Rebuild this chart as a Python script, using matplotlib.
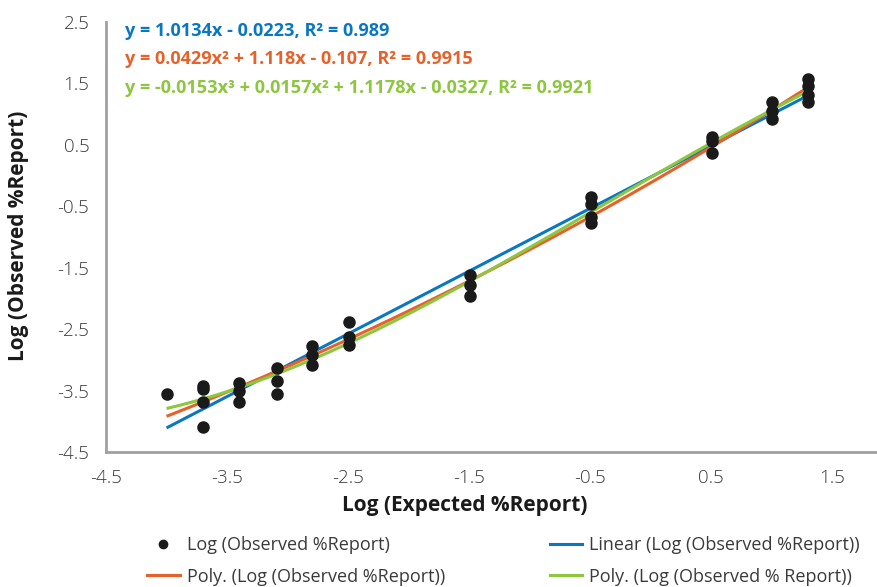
import numpy as np
import matplotlib
matplotlib.use("Agg")
import matplotlib.pyplot as plt
from matplotlib.lines import Line2D

plt.rcParams['font.family'] = ['Open Sans', 'DejaVu Sans']

# Data (log10 expected vs log10 observed)
x_expected = [-4.0,
              -3.7, -3.7, -3.7, -3.7,
              -3.4, -3.4, -3.4,
              -3.09, -3.09, -3.09,
              -2.8, -2.8, -2.8,
              -2.49, -2.49, -2.49,
              -1.49, -1.49, -1.49,
              -0.49, -0.49, -0.49, -0.49,
              0.51, 0.51, 0.51,
              1.0, 1.0, 1.0,
              1.3, 1.3, 1.3, 1.3]
y_observed = [-3.56,
              -3.42, -3.48, -3.69, -4.09,
              -3.38, -3.50, -3.69,
              -3.13, -3.35, -3.56,
              -2.77, -2.92, -3.08,
              -2.38, -2.62, -2.76,
              -1.62, -1.78, -1.96,
              -0.35, -0.47, -0.68, -0.78,
              0.63, 0.57, 0.37,
              1.20, 1.05, 0.92,
              1.58, 1.46, 1.31, 1.20]

eq_linear = "y = 1.0134x - 0.0223, R² = 0.989"
eq_poly2 = "y = 0.0429x² + 1.118x - 0.107, R² = 0.9915"
eq_poly3 = "y = -0.0153x³ + 0.0157x² + 1.1178x - 0.0327, R² = 0.9921"

x_ticks = [-4.5, -3.5, -2.5, -1.5, -0.5, 0.5, 1.5]
y_ticks = [-4.5, -3.5, -2.5, -1.5, -0.5, 0.5, 1.5, 2.5]

c_blue = "#0a77c2"
c_orange = "#e6622a"
c_green = "#8dc63f"
c_axis = "#a0a0a4"
c_text = "#3a3a3a"

fig = plt.figure(figsize=(8.77, 5.87), dpi=100)
ax = fig.add_axes([106/877, 1 - 452/587, 1 - 106/877, (452 - 22)/587])

# Trendlines fitted to the data (as the spreadsheet does)
xs = np.linspace(min(x_expected), max(x_expected), 200)
for deg, col in [(1, c_blue), (2, c_orange), (3, c_green)]:
    coef = np.polyfit(x_expected, y_observed, deg)
    ax.plot(xs, np.polyval(coef, xs), color=col, lw=2.2, solid_capstyle='butt')
ax.plot(x_expected, y_observed, 'o', color='#1a1a1a', ms=8, zorder=5)

ax.set_xlim(-4.5, 1.87)
ax.set_ylim(-4.5, 2.5)
ax.set_xticks(x_ticks)
ax.set_yticks(y_ticks)
ax.set_xticklabels([f"{v}" for v in x_ticks])
ax.set_yticklabels([f"{v}" for v in y_ticks])
ax.tick_params(length=0, labelsize=13.5, colors=c_text, pad=12)
for lbl in ax.get_xticklabels() + ax.get_yticklabels():
    lbl.set_fontweight('light')
for s in ['top', 'right']:
    ax.spines[s].set_visible(False)
for s in ['left', 'bottom']:
    ax.spines[s].set_color(c_axis)
    ax.spines[s].set_linewidth(2.0)

fig.text(465/877, 1 - 505/587, "Log (Expected %Report)", ha='center', va='center',
         fontsize=15, fontweight='bold', color='#1a1a1a')
fig.text(19/877, 1 - 236/587, "Log (Observed %Report)", ha='center', va='center',
         rotation=90, fontsize=15, fontweight='bold', color='#1a1a1a')

ax.text(125/877, 1 - 31/587, eq_linear, transform=fig.transFigure, color=c_blue,
        fontsize=13.1, fontweight='bold', va='center', ha='left')
ax.text(125/877, 1 - 59/587, eq_poly2, transform=fig.transFigure, color=c_orange,
        fontsize=13.1, fontweight='bold', va='center', ha='left')
ax.text(125/877, 1 - 88/587, eq_poly3, transform=fig.transFigure, color=c_green,
        fontsize=13.1, fontweight='bold', va='center', ha='left')

handles = [
    Line2D([], [], marker='o', ls='none', color='#1a1a1a', ms=6),
    Line2D([], [], color=c_orange, lw=2.2),
    Line2D([], [], color=c_blue, lw=2.2),
    Line2D([], [], color=c_green, lw=2.2),
]
labels = ["Log (Observed %Report)", "Poly. (Log (Observed %Report))",
          "Linear (Log (Observed %Report))", "Poly. (Log (Observed % Report))"]
leg = fig.legend(handles, labels, ncol=2, loc='center left',
                 bbox_to_anchor=(147/877, 1 - 561/587), frameon=False,
                 fontsize=13, handlelength=1.8, handletextpad=0.4,
                 columnspacing=5.8, labelspacing=0.75, borderaxespad=0, borderpad=0)
for t in leg.get_texts():
    t.set_color(c_text)

fig.savefig("out.png", dpi=100)
